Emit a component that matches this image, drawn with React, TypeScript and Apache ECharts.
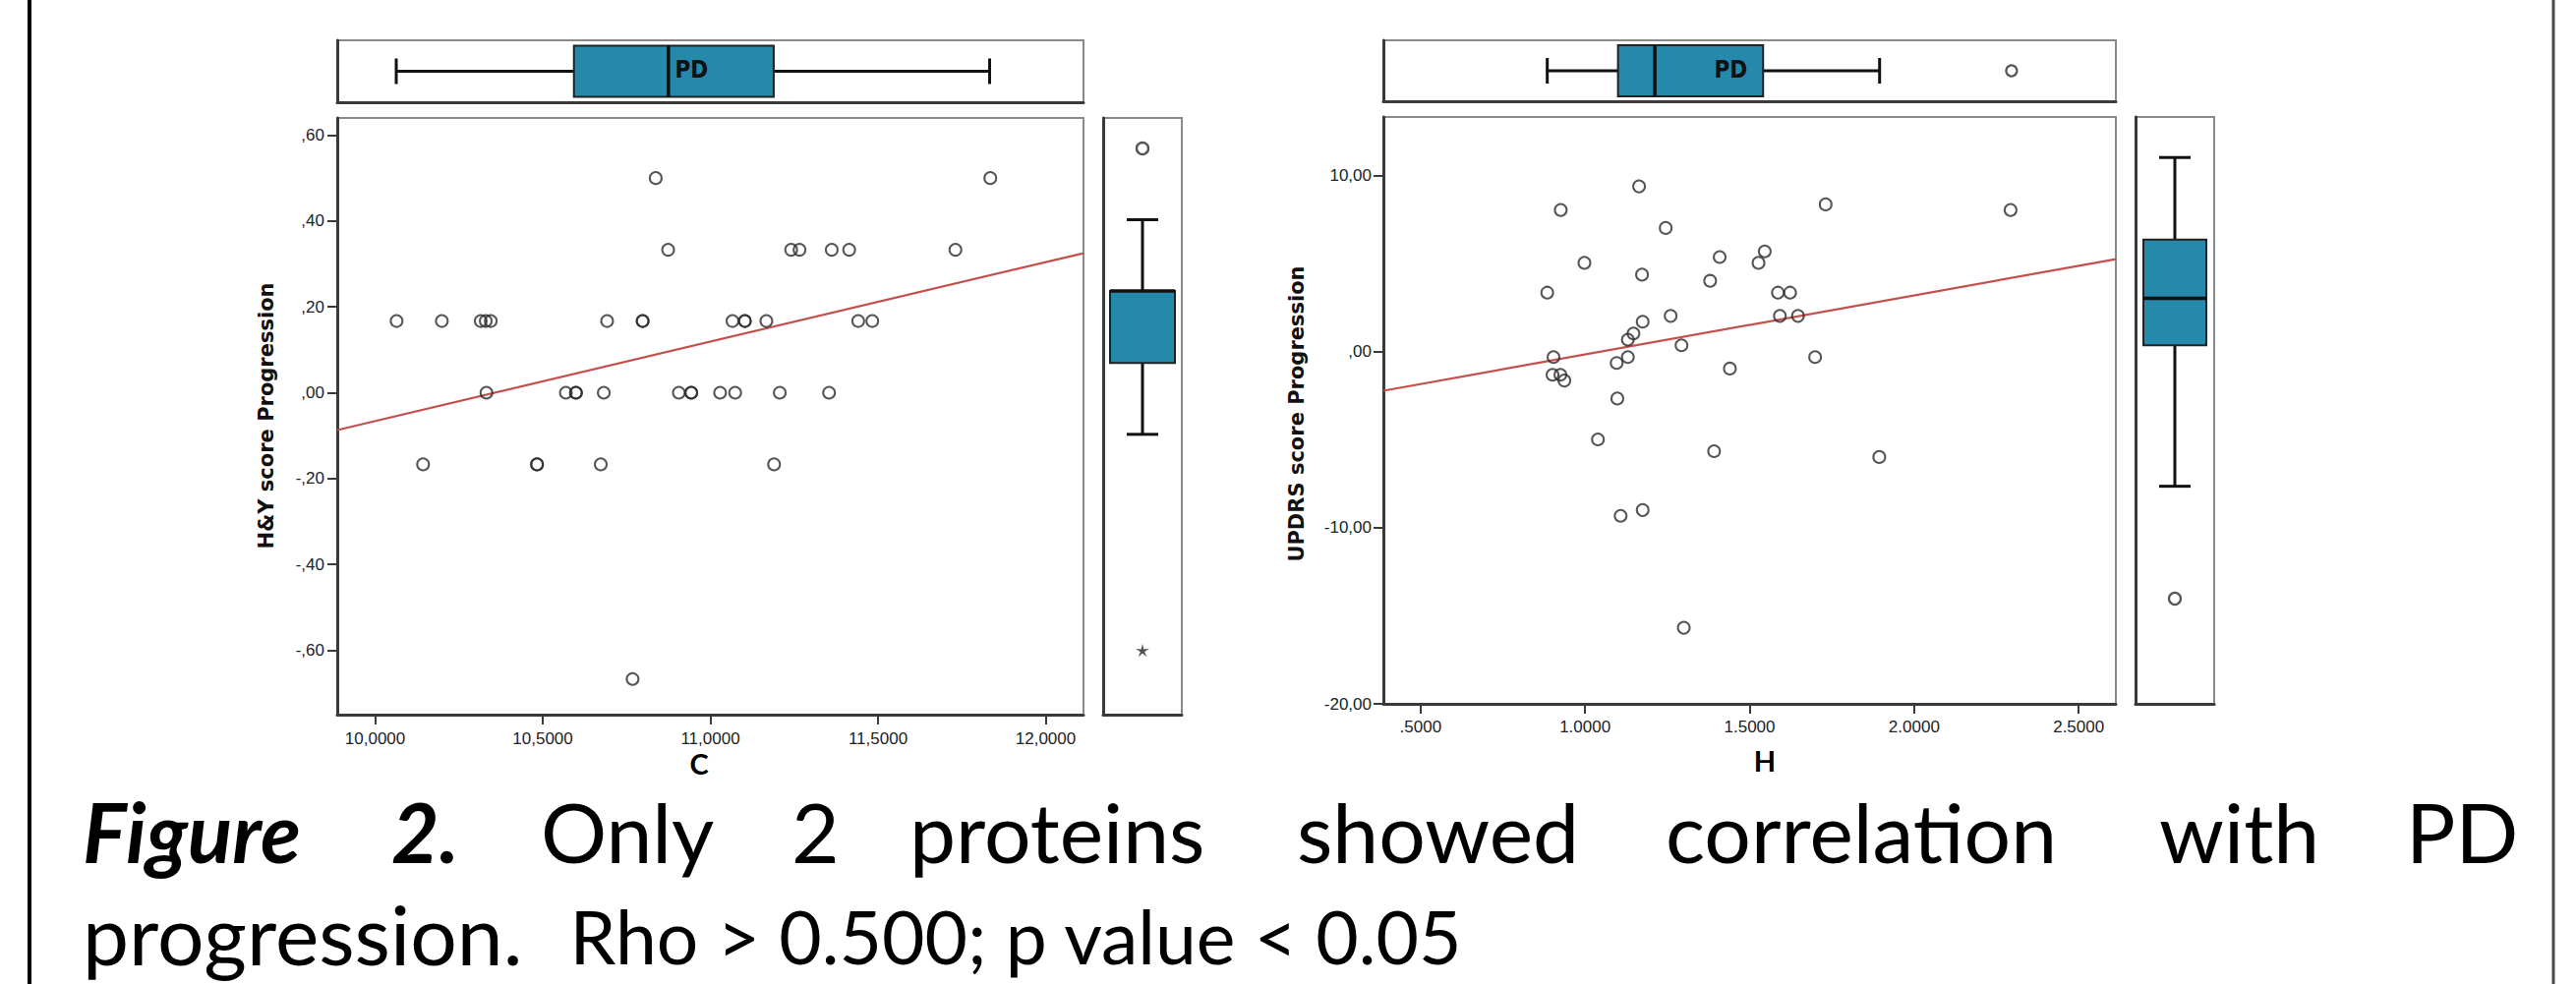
import React, { useEffect, useRef } from "react";
import * as echarts from "echarts";

// ---------- DATA ----------
// Left panel: C (x) vs H&Y score progression (y)
const cValues = [
  10.837, 11.835, 10.874, 11.241, 11.266, 11.362, 11.414, 11.731, 10.064, 10.199,
  10.315, 10.33, 10.345, 10.692, 10.798, 10.798, 11.066, 11.103, 11.103, 11.167,
  11.441, 11.483, 10.332, 10.569, 10.599, 10.599, 10.682, 10.906, 10.943, 10.943,
  11.029, 11.074, 11.207, 11.354, 10.143, 10.483, 10.483, 10.673, 11.19, 10.768,
];
const hyValues = [
  0.5, 0.5, 0.333, 0.333, 0.333, 0.333, 0.333, 0.333, 0.167, 0.167,
  0.167, 0.167, 0.167, 0.167, 0.167, 0.167, 0.167, 0.167, 0.167, 0.167,
  0.167, 0.167, 0, 0, 0, 0, 0, 0, 0, 0,
  0, 0, 0, 0, -0.167, -0.167, -0.167, -0.167, -0.167, -0.667,
];
// Right panel: H (x) vs UPDRS score progression (y)
const hValues = [
  1.164, 0.926, 1.731, 2.293, 1.245, 1.546, 1.409, 1.527, 0.998, 1.173,
  1.38, 0.885, 1.586, 1.623, 1.26, 1.592, 1.647, 1.175, 1.147, 1.13,
  1.293, 0.904, 1.13, 1.699, 1.096, 1.44, 0.901, 0.925, 0.937, 1.098,
  1.039, 1.392, 1.894, 1.175, 1.108, 1.3,
];
const updrsValues = [
  9.37, 8.03, 8.35, 8.03, 7.01, 5.68, 5.36, 5.03, 5.03, 4.36,
  4.01, 3.34, 3.34, 3.34, 2.02, 2.02, 2.02, 1.69, 1.02, 0.67,
  0.35, -0.32, -0.32, -0.32, -0.65, -0.97, -1.32, -1.32, -1.65, -2.67,
  -4.99, -5.66, -5.99, -9.0, -9.33, -15.68,
];

// Fit lines (end points at the plot edges)
const fitC = [9.887, 12.113];
const fitHY = [-0.087, 0.325];
const fitH = [0.387, 2.613];
const fitUPDRS = [-2.23, 5.24];

// Marginal box plots: [min whisker, Q1, median, Q3, max whisker]
const boxC = [10.063, 10.593, 10.875, 11.189, 11.833];
const boxHY = [-0.097, 0.069, 0.237, 0.237, 0.403];
const hyOutliers = [0.569];
const hyExtremes = [-0.6];
const boxH = [0.885, 1.1, 1.212, 1.541, 1.895];
const hOutliers = [2.296];
const boxUPDRS = [-7.65, 0.35, 3.01, 6.35, 11.01];
const updrsOutliers = [-14.03];

// Axis ranges and tick labels
const cRange = [9.887, 12.113];
const hyRange = [-0.75, 0.64];
const hRange = [0.387, 2.613];
const updrsRange = [-20, 13.31];
const cTicks = [10, 10.5, 11, 11.5, 12];
const hyTicks = [-0.6, -0.4, -0.2, 0, 0.2, 0.4, 0.6];
const hTicks = [0.5, 1, 1.5, 2, 2.5];
const updrsTicks = [-20, -10, 0, 10];

const groupName = "PD";

// Caption words of the first (justified) line and where each starts
const captionWords = ["Figure", "2.", "Only", "2", "proteins", "showed", "correlation", "with", "PD"];
const captionBoldItalic = [true, true, false, false, false, false, false, false, false];
const captionStarts = [84, 398, 550, 805, 925, 1319, 1694, 2196, 2447];

// ---------- STYLE ----------
const AXIS_FONT = '"Liberation Sans", Arial, sans-serif';
const CAP_FONT = "Lato";
const DARK = "#3a3a3a";
const FRAME = "#8a8a8a";
const BOX_FILL = "#2489AA";
const FIT = "#C4504B";

const fmtHY = (v: number) => (v < 0 ? "-" : "") + Math.abs(v).toFixed(2).replace("0.", ",");
const fmtUPDRS = (v: number) => {
  let s = Math.abs(v).toFixed(2).replace(".", ",");
  if (s.startsWith("0,")) s = s.slice(1);
  return (v < 0 ? "-" : "") + s;
};
const fmtC = (v: number) => v.toFixed(4).replace(".", ",");
const fmtH = (v: number) => v.toFixed(4).replace(/^0\./, ".");

function makeBoxRender(horizontal: boolean, boxHalf: number, capHalf: number) {
  return (_params: any, api: any) => {
    const cat = api.value(5);
    const pts = [0, 1, 2, 3, 4].map((i) =>
      horizontal ? api.coord([api.value(i), cat]) : api.coord([cat, api.value(i)])
    );
    const a = horizontal ? 0 : 1;
    const b = horizontal ? 1 : 0;
    const u = pts.map((p: number[]) => p[a]);
    const c = pts[0][b];
    const L = (u1: number, v1: number, u2: number, v2: number, w: number) => {
      const [x1, y1, x2, y2] = horizontal ? [u1, v1, u2, v2] : [v1, u1, v2, u2];
      return { type: "line", shape: { x1, y1, x2, y2 }, style: { stroke: "#111", lineWidth: w } };
    };
    const lo = Math.min(u[1], u[3]);
    const len = Math.abs(u[3] - u[1]);
    const rect = horizontal
      ? { x: lo, y: c - boxHalf, width: len, height: boxHalf * 2 }
      : { x: c - boxHalf, y: lo, width: boxHalf * 2, height: len };
    return {
      type: "group",
      children: [
        L(u[0], c, u[1], c, 3),
        L(u[3], c, u[4], c, 3),
        L(u[0], c - capHalf, u[0], c + capHalf, 3),
        L(u[4], c - capHalf, u[4], c + capHalf, 3),
        { type: "rect", shape: rect, style: { fill: BOX_FILL, stroke: "#222", lineWidth: 2 } },
        L(u[2], c - boxHalf, u[2], c + boxHalf, 3.5),
      ],
    };
  };
}

const STAR =
  "path://M0,-10L1.76,-2.43L9.51,-3.09L2.85,0.93L5.88,8.09L0,3L-5.88,8.09L-2.85,0.93L-9.51,-3.09L-1.76,-2.43Z";

function valueAxis(gridIndex: number, range: number[], ticks: number[] | null, fmt: any, margin: number) {
  return {
    type: "value",
    gridIndex,
    min: range[0],
    max: range[1],
    axisLine: { show: true, onZero: false, lineStyle: { color: DARK, width: 3 } },
    axisTick: ticks
      ? { show: true, customValues: ticks, length: 10, lineStyle: { color: DARK, width: 2 } }
      : { show: false },
    axisLabel: ticks
      ? { show: true, customValues: ticks, formatter: fmt, margin, fontSize: 17, color: "#222", fontFamily: AXIS_FONT }
      : { show: false },
    splitLine: { show: false },
  };
}
function catAxis(gridIndex: number) {
  return {
    type: "category",
    gridIndex,
    data: [groupName],
    axisLine: { show: true, onZero: false, lineStyle: { color: DARK, width: 3 } },
    axisTick: { show: false },
    axisLabel: { show: false },
    splitLine: { show: false },
  };
}

function buildOption() {
  const grids = [
    { left: 343, top: 120, width: 759, height: 607 },
    { left: 343, top: 41, width: 759, height: 63 },
    { left: 1122, top: 120, width: 80, height: 607 },
    { left: 1407, top: 119, width: 745, height: 597 },
    { left: 1407, top: 41, width: 745, height: 62 },
    { left: 2172, top: 119, width: 80, height: 597 },
  ].map((g) => ({ ...g, show: true, borderColor: FRAME, borderWidth: 2, backgroundColor: "transparent" }));

  const pointStyle = { color: "rgba(0,0,0,0)", borderColor: "#2a2a2a", borderWidth: 2 };

  // ----- caption -----
  const ctx = document.createElement("canvas").getContext("2d")!;
  const measure = (t: string, font: string) => {
    ctx.font = font;
    return ctx.measureText(t).width;
  };
  const BIG = 84;
  const SMALL = 75;
  const fontR = `normal normal ${BIG}px ${CAP_FONT}`;
  const K = 0.32;
  const base1 = 872;
  const base2 = 976;
  const capGraphics: any[] = captionWords.map((t, i) => ({
    type: "text",
    x: captionStarts[i],
    y: base1 - K * BIG,
    style: {
      text: t,
      fontFamily: CAP_FONT,
      fontSize: BIG,
      fontWeight: captionBoldItalic[i] ? "bold" : "normal",
      fontStyle: captionBoldItalic[i] ? "italic" : "normal",
      fill: "#000",
      align: "left",
      verticalAlign: "middle",
    },
  }));
  const prog = "progression.";
  const progX = 84;
  capGraphics.push({
    type: "text",
    x: progX,
    y: base2 - K * BIG,
    style: { text: prog, fontFamily: CAP_FONT, fontSize: BIG, fill: "#000", align: "left", verticalAlign: "middle" },
  });
  const rhoX = progX + measure(prog, fontR) + 48;
  capGraphics.push({
    type: "text",
    x: rhoX,
    y: base2 - K * SMALL,
    style: {
      text: "Rho > 0.500; p value < 0.05",
      fontFamily: CAP_FONT,
      fontSize: SMALL,
      fill: "#000",
      align: "left",
      verticalAlign: "middle",
    },
  });

  const pdStyle = {
    text: groupName,
    fontFamily: '"Liberation Sans Narrow", "DejaVu Sans Condensed", sans-serif',
    fontWeight: "bold",
    fontSize: 24,
    fill: "#111",
    align: "left",
    verticalAlign: "middle",
  };
  const yTitleStyle = (t: string) => ({
    text: t,
    fontFamily: '"DejaVu Sans", Verdana, sans-serif',
    fontWeight: "bold",
    fontSize: 21,
    fill: "#111",
    align: "center",
    verticalAlign: "middle",
  });
  const xTitleStyle = (t: string) => ({
    text: t,
    fontFamily: CAP_FONT,
    fontWeight: "bold",
    fontSize: 29,
    fill: "#000",
    align: "center",
    verticalAlign: "middle",
  });

  return {
    animation: false,
    backgroundColor: "#fff",
    grid: grids,
    xAxis: [
      valueAxis(0, cRange, cTicks, fmtC, 16),
      valueAxis(1, cRange, null, null, 0),
      catAxis(2),
      valueAxis(3, hRange, hTicks, fmtH, 15),
      valueAxis(4, hRange, null, null, 0),
      catAxis(5),
    ],
    yAxis: [
      valueAxis(0, hyRange, hyTicks, fmtHY, 13),
      catAxis(1),
      valueAxis(2, hyRange, null, null, 0),
      valueAxis(3, updrsRange, updrsTicks, fmtUPDRS, 12),
      catAxis(4),
      valueAxis(5, updrsRange, null, null, 0),
    ],
    series: [
      {
        type: "line",
        xAxisIndex: 0,
        yAxisIndex: 0,
        data: [
          [fitC[0], fitHY[0]],
          [fitC[1], fitHY[1]],
        ],
        showSymbol: false,
        symbol: "none",
        lineStyle: { color: FIT, width: 2.2 },
        silent: true,
        z: 2,
      },
      {
        type: "scatter",
        xAxisIndex: 0,
        yAxisIndex: 0,
        data: cValues.map((x, i) => [x, hyValues[i]]),
        symbol: "circle",
        symbolSize: 12,
        itemStyle: pointStyle,
        z: 3,
      },
      {
        type: "custom",
        xAxisIndex: 1,
        yAxisIndex: 1,
        data: [[...boxC, 0]],
        encode: { x: [0, 1, 2, 3, 4], y: 5 },
        renderItem: makeBoxRender(true, 26, 13),
        z: 3,
      },
      {
        type: "custom",
        xAxisIndex: 2,
        yAxisIndex: 2,
        data: [[...boxHY, 0]],
        encode: { y: [0, 1, 2, 3, 4], x: 5 },
        renderItem: makeBoxRender(false, 33, 16),
        z: 3,
      },
      {
        type: "scatter",
        xAxisIndex: 2,
        yAxisIndex: 2,
        data: hyOutliers.map((v) => [0, v]),
        symbol: "circle",
        symbolSize: 12,
        itemStyle: { ...pointStyle, borderWidth: 2.4 },
        z: 4,
      },
      {
        type: "scatter",
        xAxisIndex: 2,
        yAxisIndex: 2,
        data: hyExtremes.map((v) => [0, v]),
        symbol: STAR,
        symbolSize: 14,
        symbolKeepAspect: true,
        itemStyle: { color: "#222" },
        z: 4,
      },
      {
        type: "line",
        xAxisIndex: 3,
        yAxisIndex: 3,
        data: [
          [fitH[0], fitUPDRS[0]],
          [fitH[1], fitUPDRS[1]],
        ],
        showSymbol: false,
        symbol: "none",
        lineStyle: { color: FIT, width: 2.2 },
        silent: true,
        z: 2,
      },
      {
        type: "scatter",
        xAxisIndex: 3,
        yAxisIndex: 3,
        data: hValues.map((x, i) => [x, updrsValues[i]]),
        symbol: "circle",
        symbolSize: 12,
        itemStyle: pointStyle,
        z: 3,
      },
      {
        type: "custom",
        xAxisIndex: 4,
        yAxisIndex: 4,
        data: [[...boxH, 0]],
        encode: { x: [0, 1, 2, 3, 4], y: 5 },
        renderItem: makeBoxRender(true, 26, 13),
        z: 3,
      },
      {
        type: "scatter",
        xAxisIndex: 4,
        yAxisIndex: 4,
        data: hOutliers.map((v) => [v, 0]),
        symbol: "circle",
        symbolSize: 11,
        itemStyle: { ...pointStyle, borderWidth: 2.2 },
        z: 4,
      },
      {
        type: "custom",
        xAxisIndex: 5,
        yAxisIndex: 5,
        data: [[...boxUPDRS, 0]],
        encode: { y: [0, 1, 2, 3, 4], x: 5 },
        renderItem: makeBoxRender(false, 32, 16),
        z: 3,
      },
      {
        type: "scatter",
        xAxisIndex: 5,
        yAxisIndex: 5,
        data: updrsOutliers.map((v) => [0, v]),
        symbol: "circle",
        symbolSize: 12,
        itemStyle: { ...pointStyle, borderWidth: 2.2 },
        z: 4,
      },
    ],
    graphic: [
      { type: "line", shape: { x1: 30, y1: 0, x2: 30, y2: 1001 }, style: { stroke: "#000", lineWidth: 4 } },
      { type: "line", shape: { x1: 2597, y1: 0, x2: 2597, y2: 1001 }, style: { stroke: "#4a4a4a", lineWidth: 3 } },
      { type: "text", x: 343 + 759 / 2 - 36, y: 71, style: pdStyle, z: 10 },
      { type: "text", x: 1407 + 745 / 2 - 36, y: 71, style: pdStyle, z: 10 },
      { type: "text", x: 271, y: 423, rotation: Math.PI / 2, style: yTitleStyle("H&Y score Progression") },
      { type: "text", x: 1319, y: 421, rotation: Math.PI / 2, style: yTitleStyle("UPDRS score Progression") },
      { type: "text", x: 711, y: 776, style: xTitleStyle("C") },
      { type: "text", x: 1795, y: 773, style: xTitleStyle("H") },
      ...capGraphics,
    ],
  };
}

export default function App() {
  const ref = useRef<HTMLDivElement>(null);
  useEffect(() => {
    document.body.style.margin = "0";
    const chart = echarts.init(ref.current!, null, { renderer: "svg" });
    chart.setOption(buildOption() as any);
    return () => chart.dispose();
  }, []);
  return <div ref={ref} style={{ width: 2620, height: 1001 }} />;
}
